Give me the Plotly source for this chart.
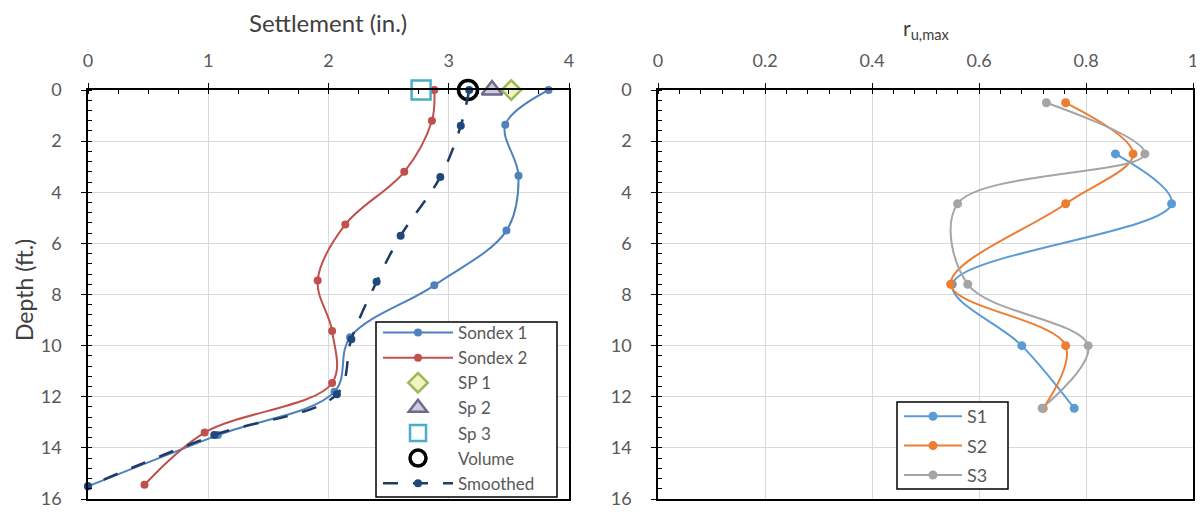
import plotly.graph_objects as go

# ───────────── DATA ─────────────
# left panel: settlement (in.) vs depth (ft.)
sondex1_x = [3.83, 3.47, 3.58, 3.48, 2.88, 2.18, 2.05, 1.08, 0.0]
sondex1_y = [0.0, 1.36, 3.35, 5.5, 7.64, 9.67, 11.8, 13.5, 15.5]
sondex2_x = [2.88, 2.86, 2.63, 2.14, 1.91, 2.03, 2.03, 0.97, 0.47]
sondex2_y = [0.0, 1.2, 3.2, 5.26, 7.45, 9.43, 11.46, 13.4, 15.44]
smoothed_x = [3.17, 3.1, 2.93, 2.6, 2.4, 2.19, 2.07, 1.05, 0.0]
smoothed_y = [0.0, 1.4, 3.4, 5.7, 7.5, 9.75, 11.9, 13.5, 15.5]
sp1_x, sp1_y = [3.52], [0.0]
sp2_x, sp2_y = [3.36], [0.0]
sp3_x, sp3_y = [2.77], [0.0]
volume_x, volume_y = [3.16], [0.0]

# right panel: r_u,max vs depth (ft.)
s1_x = [0.855, 0.96, 0.55, 0.68, 0.778]
s1_y = [2.5, 4.45, 7.6, 10.0, 12.45]
s2_x = [0.762, 0.888, 0.762, 0.547, 0.762, 0.72]
s2_y = [0.5, 2.5, 4.45, 7.6, 10.0, 12.45]
s3_x = [0.726, 0.91, 0.56, 0.579, 0.804, 0.718]
s3_y = [0.5, 2.5, 4.45, 7.6, 10.0, 12.45]

settle_ticks = [0, 1, 2, 3, 4]
ru_ticks = [0, 0.2, 0.4, 0.6, 0.8, 1]
depth_ticks = [0, 2, 4, 6, 8, 10, 12, 14, 16]

FONT = "Lato"
GREY = "#595959"
DARK = "#404040"

# the page puts the figure 8px in from the top-left corner; positions below
# are reference-picture pixels and get converted here
OFF = 8
W, H = 1204, 512
TOP, BOT = 90, 499          # plot area top / bottom in reference pixels


def fx(px):
    return (px - OFF) / W


def fy(py):
    return (BOT - py) / (BOT - TOP)


fig = go.Figure()

# ── left panel ──
left = dict(xaxis="x", yaxis="y", legend="legend", cliponaxis=False)
fig.add_trace(go.Scatter(x=sondex1_x, y=sondex1_y, name="Sondex 1", mode="lines+markers",
                         line=dict(color="#4F81BD", width=2, shape="spline", smoothing=1),
                         marker=dict(size=8, color="#4F81BD"), **left))
fig.add_trace(go.Scatter(x=sondex2_x, y=sondex2_y, name="Sondex 2", mode="lines+markers",
                         line=dict(color="#C0504D", width=2, shape="spline", smoothing=1),
                         marker=dict(size=8, color="#C0504D"), **left))
fig.add_trace(go.Scatter(x=sp1_x, y=sp1_y, name="SP 1", mode="markers",
                         marker=dict(symbol="diamond", size=15, color="rgba(230,230,120,0.45)",
                                     line=dict(width=2.5, color="#9BBB59")), **left))
fig.add_trace(go.Scatter(x=sp2_x, y=sp2_y, name="Sp 2", mode="markers",
                         marker=dict(symbol="triangle-up", size=18, color="rgba(128,100,162,0.35)",
                                     line=dict(width=2.5, color="#6E6A8C")), **left))
fig.add_trace(go.Scatter(x=sp3_x, y=sp3_y, name="Sp 3", mode="markers",
                         marker=dict(symbol="square-open", size=19, color="#4BACC6", line=dict(width=2.5)),
                         **left))
fig.add_trace(go.Scatter(x=volume_x, y=volume_y, name="Volume", mode="markers",
                         marker=dict(symbol="circle-open", size=19, color="black", line=dict(width=3.5)),
                         **left))
fig.add_trace(go.Scatter(x=smoothed_x, y=smoothed_y, name="Smoothed", mode="lines+markers",
                         line=dict(color="#1F3B63", width=2.5, dash="longdash", shape="spline", smoothing=1),
                         marker=dict(size=8, color="#1F497D"), **left))

# ── right panel ──
for xs, ys, name, col in [(s1_x, s1_y, "S1", "#5B9BD5"),
                          (s2_x, s2_y, "S2", "#ED7D31"),
                          (s3_x, s3_y, "S3", "#A5A5A5")]:
    fig.add_trace(go.Scatter(x=xs, y=ys, name=name, mode="lines+markers",
                             line=dict(color=col, width=2, shape="spline", smoothing=1),
                             marker=dict(size=9, color=col), legendgroup=name,
                             xaxis="x2", yaxis="y2", legend="legend2"))

axis_common = dict(showline=True, linecolor="black", linewidth=1.5, mirror=True,
                   showgrid=True, gridcolor="#D9D9D9", gridwidth=1, zeroline=False,
                   ticks="outside", ticklen=5, tickcolor="black", ticklabeloverflow="allow",
                   tickfont=dict(family=FONT, size=18, color=GREY), automargin=False)
minor = dict(ticks="inside", ticklen=4, tickcolor="black", showgrid=False)

fig.update_layout(
    width=W, height=H,
    margin=dict(l=0, r=0, t=TOP - OFF, b=H - (BOT - OFF), autoexpand=False),
    paper_bgcolor="white", plot_bgcolor="white",
    font=dict(family=FONT, color=GREY),
    xaxis=dict(domain=[fx(88), fx(569)], range=[0, 4], tickvals=settle_ticks, side="top",
               anchor="y", ticklabelstandoff=9, minor=dict(dtick=0.25, **minor), **axis_common),
    yaxis=dict(domain=[0, 1], range=[16, 0], tickvals=depth_ticks, anchor="x",
               ticklabelstandoff=16, minor=dict(dtick=0.4, **minor), **axis_common),
    xaxis2=dict(domain=[fx(658), fx(1193)], range=[0, 1], tickvals=ru_ticks, side="top",
                anchor="y2", ticklabelstandoff=9, minor=dict(dtick=0.04, **minor), **axis_common),
    yaxis2=dict(domain=[0, 1], range=[16, 0], tickvals=depth_ticks, anchor="x2",
                ticklabelstandoff=16, minor=dict(dtick=0.4, **minor), **axis_common),
    legend=dict(x=fx(378), y=fy(315), xref="paper", yref="paper",
                xanchor="left", yanchor="top", bgcolor="rgba(0,0,0,0)", borderwidth=0,
                font=dict(family=FONT, size=17, color=GREY), itemwidth=70),
    legend2=dict(x=fx(899), y=fy(398), xref="paper", yref="paper",
                 xanchor="left", yanchor="top", bgcolor="rgba(0,0,0,0)", borderwidth=0,
                 traceorder="grouped", tracegroupgap=3,
                 font=dict(family=FONT, size=18, color=GREY), itemwidth=58),
    showlegend=True,
    shapes=[
        dict(type="rect", xref="paper", yref="paper", layer="above",
             x0=fx(376), x1=fx(557), y0=fy(497), y1=fy(322),
             fillcolor="white", line=dict(color="black", width=1.5)),
        dict(type="rect", xref="paper", yref="paper", layer="above",
             x0=fx(897), x1=fx(1008), y0=fy(489), y1=fy(402),
             fillcolor="white", line=dict(color="black", width=1.5)),
    ],
    annotations=[
        dict(text="Settlement (in.)", xref="paper", yref="paper", x=fx(328), y=fy(23),
             showarrow=False, xanchor="center", yanchor="middle",
             font=dict(family=FONT, size=24, color=DARK)),
        dict(text="Depth (ft.)", xref="paper", yref="paper", x=fx(24), y=fy(290),
             showarrow=False, xanchor="center", yanchor="middle", textangle=-90,
             font=dict(family=FONT, size=23, color=DARK)),
        dict(text="r<sub>u,max</sub>", xref="paper", yref="paper", x=fx(926), y=fy(29),
             showarrow=False, xanchor="center", yanchor="middle",
             font=dict(family=FONT, size=21, color=DARK)),
    ],
)

fig.write_html("out.html")
